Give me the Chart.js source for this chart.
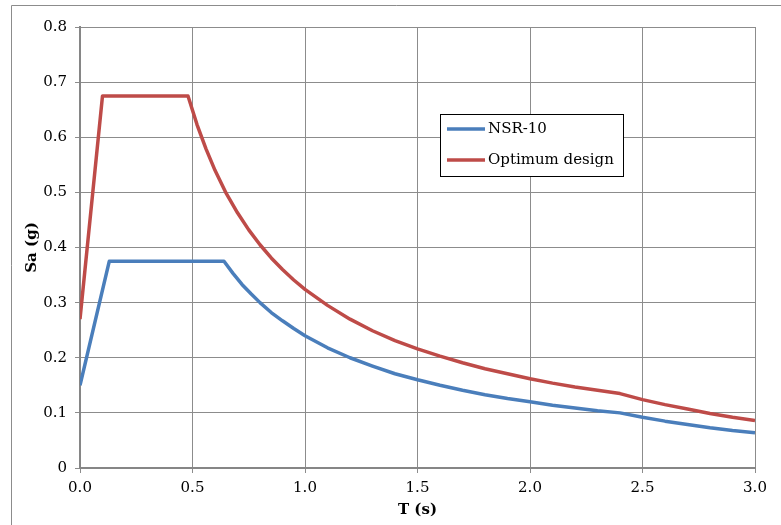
<!DOCTYPE html>
<html>
<head>
<meta charset="utf-8">
<script src="https://cdn.jsdelivr.net/npm/chart.js@4"></script>
<style>
  body { margin: 0; background: #fff; }
  #wrap { position: relative; width: 781px; height: 525px; }
</style>
</head>
<body>
<div id="wrap"><canvas id="myChart" width="781" height="525"></canvas></div>
<script>
// values
const nsrT  = [0, 0.13, 0.64, 0.68, 0.72, 0.76, 0.8, 0.85, 0.9, 0.95, 1.0, 1.1, 1.2, 1.3, 1.4, 1.5, 1.6, 1.7, 1.8, 1.9, 2.0,
               2.1, 2.2, 2.3, 2.4, 2.5, 2.6, 2.7, 2.8, 2.9, 3.0];
const nsrSa = [0.15, 0.375, 0.375, 0.353, 0.333, 0.316, 0.300, 0.282, 0.267, 0.253, 0.240, 0.218, 0.200, 0.185, 0.171, 0.160,
               0.150, 0.141, 0.133, 0.126, 0.120, 0.114, 0.109, 0.104, 0.100, 0.092, 0.085, 0.079, 0.073, 0.068, 0.064];

const optT  = [0, 0.10, 0.48, 0.52, 0.56, 0.6, 0.65, 0.7, 0.75, 0.8, 0.85, 0.9, 0.95, 1.0, 1.1, 1.2, 1.3, 1.4, 1.5, 1.6, 1.7,
               1.8, 1.9, 2.0, 2.1, 2.2, 2.3, 2.4, 2.5, 2.6, 2.7, 2.8, 2.9, 3.0];
const optSa = [0.27, 0.675, 0.675, 0.623, 0.579, 0.540, 0.498, 0.463, 0.432, 0.405, 0.381, 0.360, 0.341, 0.324, 0.295, 0.270,
               0.249, 0.231, 0.216, 0.203, 0.191, 0.180, 0.171, 0.162, 0.154, 0.147, 0.141, 0.135, 0.124, 0.115, 0.107,
               0.099, 0.092, 0.086];

const seriesNames = ['NSR-10', 'Optimum design'];
const seriesColors = ['#4a7ebb', '#be4b48'];

const fontFam = '"DejaVu Serif", serif';

function toPoints(xs, ys) {
  return xs.map((x, i) => ({ x: x, y: ys[i] }));
}

// frame + legend box drawn by hand, like the excel one
const extras = {
  id: 'extras',
  afterDraw(chart) {
    const c = chart.ctx;
    c.save();
    c.strokeStyle = '#8c8c8c';
    c.lineWidth = 1;
    c.beginPath();
    c.moveTo(11.5, 525);
    c.lineTo(11.5, 5.5);
    c.lineTo(781, 5.5);
    c.stroke();

    // legend
    c.fillStyle = '#fff';
    c.fillRect(440, 114, 183, 62);
    c.strokeStyle = '#000';
    c.strokeRect(440.5, 114.5, 183, 62);
    c.font = '15px ' + fontFam;
    c.textBaseline = 'middle';
    const ys = [129, 160];
    chart.data.datasets.forEach((ds, i) => {
      c.strokeStyle = ds.borderColor;
      c.lineWidth = 3.5;
      c.beginPath();
      c.moveTo(447, ys[i]);
      c.lineTo(485, ys[i]);
      c.stroke();
      c.fillStyle = '#000';
      c.fillText(ds.label, 488, ys[i]);
    });
    c.restore();
  }
};

new Chart(document.getElementById('myChart'), {
  type: 'line',
  data: {
    datasets: [{
      label: seriesNames[0],
      data: toPoints(nsrT, nsrSa),
      borderColor: seriesColors[0],
      borderWidth: 3.5,
      pointRadius: 0,
      tension: 0,
      borderJoinStyle: 'round'
    }, {
      label: seriesNames[1],
      data: toPoints(optT, optSa),
      borderColor: seriesColors[1],
      borderWidth: 3.5,
      pointRadius: 0,
      tension: 0,
      borderJoinStyle: 'round'
    }]
  },
  options: {
    responsive: false,
    animation: false,
    layout: { padding: { left: 0, right: 26, top: 27, bottom: 0 } },
    plugins: {
      legend: { display: false },
      tooltip: { enabled: false }
    },
    scales: {
      x: {
        type: 'linear',
        min: 0, max: 3,
        afterFit(s) { s.height = 57; },
        ticks: {
          stepSize: 0.5,
          color: '#000',
          padding: 6,
          maxRotation: 0,
          font: { family: fontFam, size: 15 },
          callback: v => v.toFixed(1)
        },
        grid: { color: '#8c8c8c', tickLength: 5, tickColor: '#8c8c8c' },
        border: { color: '#868686', width: 2 },
        title: {
          display: true,
          text: 'T (s)',
          color: '#000',
          font: { family: fontFam, size: 15, weight: 'bold' },
          padding: { top: 0, bottom: 6 }
        }
      },
      y: {
        min: 0, max: 0.8,
        afterFit(s) { s.width = 80; },
        ticks: {
          stepSize: 0.1,
          color: '#000',
          padding: 8,
          font: { family: fontFam, size: 15 },
          callback: v => (v === 0 ? '0' : v.toFixed(1))
        },
        grid: { color: '#8c8c8c', tickLength: 5, tickColor: '#8c8c8c' },
        border: { color: '#868686', width: 2 },
        title: {
          display: true,
          text: 'Sa (g)',
          color: '#000',
          font: { family: fontFam, size: 15, weight: 'bold' },
          padding: { top: 23, bottom: 0 }
        }
      }
    }
  },
  plugins: [extras]
});
</script>
</body>
</html>
